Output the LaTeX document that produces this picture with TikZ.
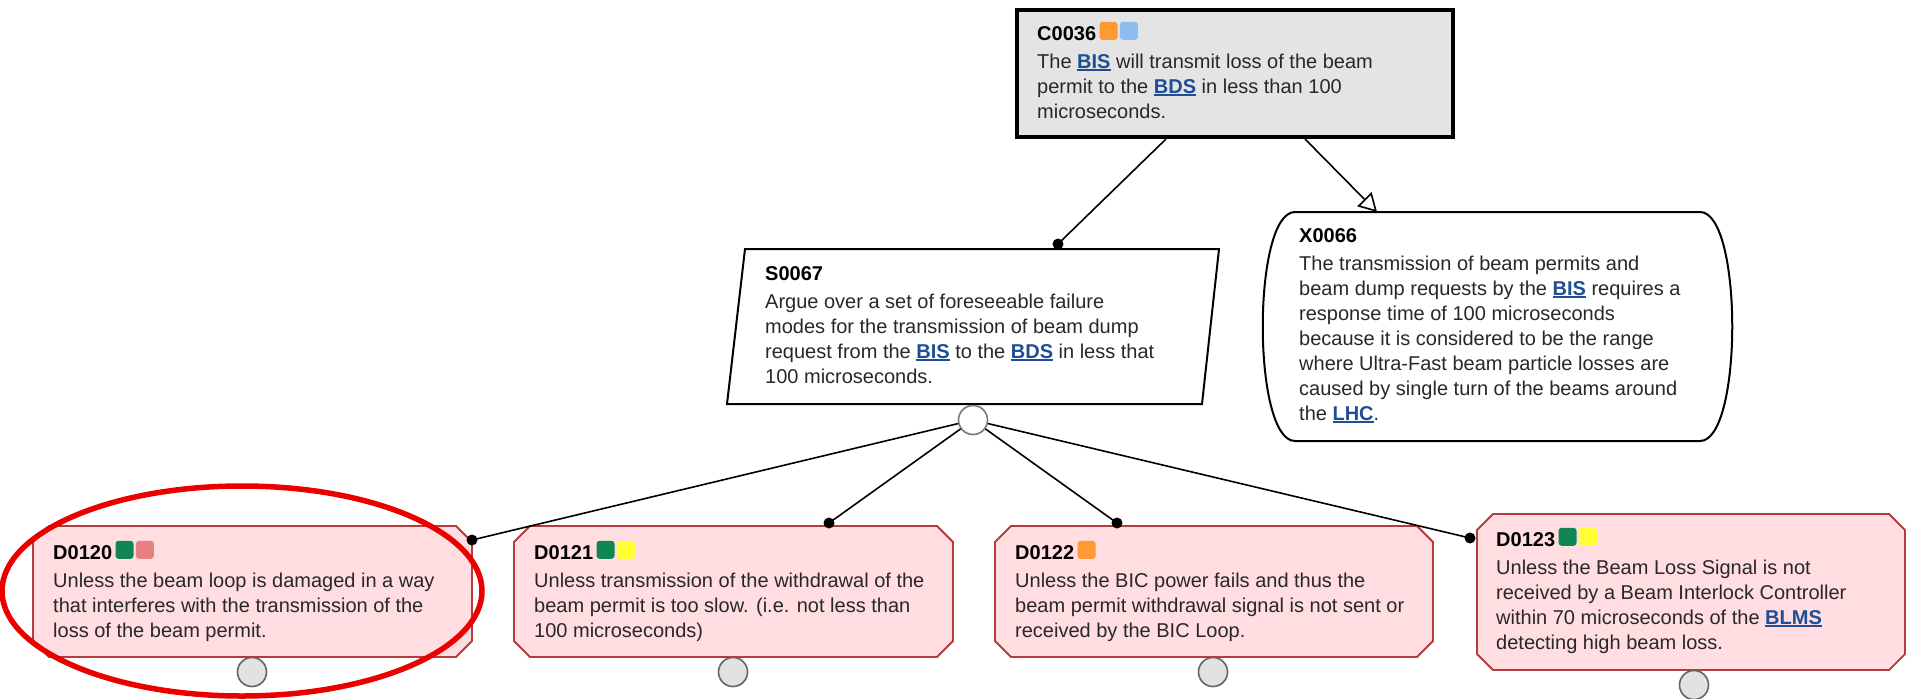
\documentclass[tikz,border=0pt]{standalone}
\usepackage{fontspec}
\setmainfont{Liberation Sans}
\usetikzlibrary{arrows.meta}

\definecolor{linkblue}{RGB}{31,78,148}
\definecolor{bodytext}{RGB}{40,40,40}
\definecolor{claimfill}{RGB}{228,228,228}
\definecolor{defeatfill}{RGB}{255,221,224}
\definecolor{defeatline}{RGB}{180,60,60}
\definecolor{tagorange}{RGB}{255,153,51}
\definecolor{tagblue}{RGB}{143,188,240}
\definecolor{taggreen}{RGB}{16,134,84}
\definecolor{tagpink}{RGB}{232,128,128}
\definecolor{tagyellow}{RGB}{255,255,51}
\definecolor{stubfill}{RGB}{226,226,226}
\definecolor{stubline}{RGB}{100,100,100}
\definecolor{markred}{RGB}{235,0,0}

% bold, underlined glossary reference
\newcommand\lnk[1]{{\color{linkblue}\bfseries\setbox0\hbox{#1}\rlap{\rule[-2.6pt]{\wd0}{1.5pt}}\box0}}

% chamfered defeater box: x1, y1, x2, y2 (pixel grid, y downwards)
\newcommand\octbox[4]{%
  \draw[defeater] (#1+16,#2) -- (#3-16,#2) -- (#3,#2+16) -- (#3,#4-16)
    -- (#3-16,#4) -- (#1+16,#4) -- (#1,#4-16) -- (#1,#2+16) -- cycle;}

\tikzset{
  boxtitle/.style={anchor=base west, inner sep=0pt, font=\fontsize{20}{25}\selectfont\bfseries},
  boxbody/.style={anchor=north west, inner sep=0pt, align=left, text=bodytext,
    font=\fontsize{20}{25}\selectfont},
  tagbox/.style={anchor=south west, inner sep=0pt, minimum size=18pt, rounded corners=3pt},
  defeater/.style={fill=defeatfill, draw=defeatline, line width=1.8pt},
  stub/.style={circle, inner sep=0pt, minimum size=29pt, fill=stubfill, draw=stubline, line width=1.6pt},
  wire/.style={line width=1.6pt, black},
  joint/.style={black},
}

\begin{document}
\begin{tikzpicture}[x=1pt, y=-1pt]
\fill[white] (0,0) rectangle (1907,699);
\useasboundingbox (0,0) rectangle (1907,699);

% ---------- claim C0036 ----------
\draw[line width=4.5pt, fill=claimfill] (1017,10) rectangle (1453,137);
\node[boxtitle] (tc36) at (1037,40) {C0036};
\node[tagbox, fill=tagorange] (qc36a) at ([xshift=3pt]tc36.base east) {};
\node[tagbox, fill=tagblue] (qc36b) at ([xshift=2pt]qc36a.south east) {};
\node[boxbody] (bc36) at (1037,50.5) {\strut The \lnk{BIS} will transmit loss of the beam\\
permit to the \lnk{BDS} in less than 100\\
microseconds.};

% ---------- strategy S0067 ----------
\draw[line width=2pt, fill=white] (745,249) -- (1219,249) -- (1202,404) -- (727,404) -- cycle;
\node[boxtitle] (ts67) at (765,280) {S0067};
\node[boxbody] (bs67) at (765,290.5) {\strut Argue over a set of foreseeable failure\\
modes for the transmission of beam dump\\
request from the \lnk{BIS} to the \lnk{BDS} in less that\\
100 microseconds.};
\node[circle, inner sep=0pt, minimum size=29pt, fill=white, draw={rgb,255:red,120;green,120;blue,120}, line width=1.6pt] (s67c) at (973,420) {};

% ---------- context X0066 ----------
\draw[line width=2pt, fill=white] (1295,212) -- (1700,212)
  .. controls (1743,212) and (1743,441) .. (1700,441) -- (1295,441)
  .. controls (1252,441) and (1252,212) .. (1295,212) -- cycle;
\node[boxtitle] (tx66) at (1299,242) {X0066};
\node[boxbody] (bx66) at (1299,252.5) {\strut The transmission of beam permits and\\
beam dump requests by the \lnk{BIS} requires a\\
response time of 100 microseconds\\
because it is considered to be the range\\
where Ultra-Fast beam particle losses are\\
caused by single turn of the beams around\\
the \lnk{LHC}.};

% ---------- defeaters ----------
\octbox{33}{526}{472}{657}
\node[boxtitle] (td120) at (53,559) {D0120};
\node[tagbox, fill=taggreen] (qd120a) at ([xshift=3pt]td120.base east) {};
\node[tagbox, fill=tagpink] (qd120b) at ([xshift=2pt]qd120a.south east) {};
\node[boxbody] (bd120) at (53,569.5) {\strut Unless the beam loop is damaged in a way\\
that interferes with the transmission of the\\
loss of the beam permit.};
\node[stub] (s120) at (252,672) {};

\octbox{514}{526}{953}{657}
\node[boxtitle] (td121) at (534,559) {D0121};
\node[tagbox, fill=taggreen] (qd121a) at ([xshift=3pt]td121.base east) {};
\node[tagbox, fill=tagyellow] (qd121b) at ([xshift=2pt]qd121a.south east) {};
\node[boxbody] (bd121) at (534,569.5) {\strut Unless transmission of the withdrawal of the\\
beam permit is too slow. (i.e. not less than\\
100 microseconds)};
\node[stub] (s121) at (733,672) {};

\octbox{995}{526}{1433}{657}
\node[boxtitle] (td122) at (1015,559) {D0122};
\node[tagbox, fill=tagorange] (qd122a) at ([xshift=3pt]td122.base east) {};
\node[boxbody] (bd122) at (1015,569.5) {\strut Unless the BIC power fails and thus the\\
beam permit withdrawal signal is not sent or\\
received by the BIC Loop.};
\node[stub] (s122) at (1213,672) {};

\octbox{1477}{514}{1905}{670}
\node[boxtitle] (td123) at (1496,546) {D0123};
\node[tagbox, fill=taggreen] (qd123a) at ([xshift=3pt]td123.base east) {};
\node[tagbox, fill=tagyellow] (qd123b) at ([xshift=2pt]qd123a.south east) {};
\node[boxbody] (bd123) at (1496,556.5) {\strut Unless the Beam Loss Signal is not\\
received by a Beam Interlock Controller\\
within 70 microseconds of the \lnk{BLMS}\\
detecting high beam loss.};
\node[stub] (s123) at (1694,685) {};

% ---------- connectors ----------
\coordinate (c36l) at (1166,139);
\coordinate (c36r) at (1305,139);
\coordinate (ds67) at (1058,244);
\coordinate (tx66) at (1377,212);
\coordinate (d120) at (472,540);
\coordinate (d121) at (829,523);
\coordinate (d122) at (1117,523);
\coordinate (d123) at (1470,538);

\draw[wire] (c36l) -- (ds67);
\fill[joint] (ds67) circle (5.5pt);
\draw[wire, -{Triangle[open, length=18pt, width=20pt, line width=1.6pt]}] (c36r) -- (tx66);

\foreach \d in {d120,d121,d122,d123}{
  \draw[wire] (s67c) -- (\d);
  \fill[joint] (\d) circle (5.5pt);
}

% ---------- highlight ----------
\draw[markred, line width=5.5pt] (242,591) ellipse [x radius=240pt, y radius=105pt];
\end{tikzpicture}
\end{document}
